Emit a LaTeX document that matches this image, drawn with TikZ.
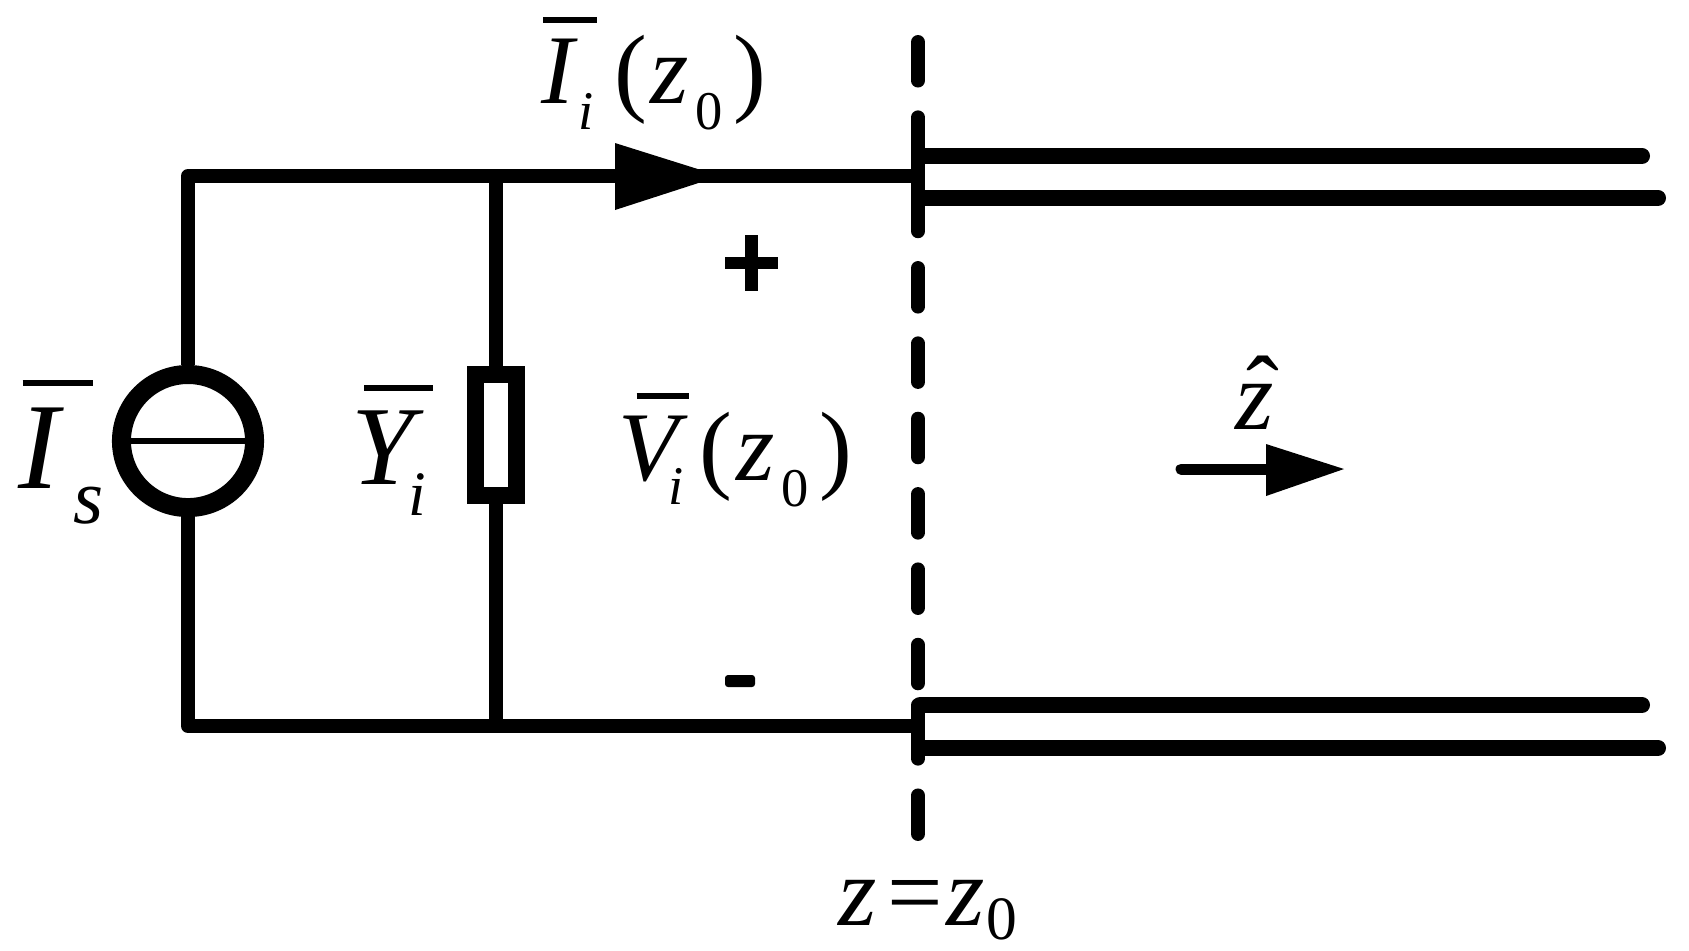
\documentclass[tikz,border=0pt]{standalone}
\usepackage{fontspec}
\setmainfont{Liberation Serif}
\usepackage{tikz}
\newcommand{\ovbar}[3]{\leavevmode\rlap{\kern#1\raisebox{#2}{\rule{#3}{1.7pt}}}}
\newcommand{\subidx}[3]{\raisebox{-#2}{\fontsize{#1}{#1}\selectfont #3}}
\newcommand{\argzero}{(\kern1pt\textit{z}\kern2pt\subidx{15.5pt}{7.4pt}{0}\kern3pt)}
\tikzset{
  wire/.style={line width=0.14cm},
  tube/.style={line width=0.16cm,line cap=round},
  txt/.style={inner sep=0pt,anchor=base west,font=\fontsize{28pt}{30pt}\selectfont},
  signbar/.style={fill=black,inner sep=0pt}
}
\begin{document}
\begin{tikzpicture}[x=0.01cm,y=-0.01cm]
            \useasboundingbox (0,0) rectangle (1689,950);

            % source and admittance
            \node at (188,441) (Is) [circle,draw,line width=0.19cm,minimum size=1.33cm,inner sep=0pt] {};
            \node at (496,435) (Yi) [rectangle,draw,line width=0.17cm,minimum width=0.405cm,minimum height=1.215cm,inner sep=0pt] {};
            \draw[line width=0.063cm] (Is.west) -- (Is.east);

            % corners and junctions
            \coordinate (TL) at (188,176);
            \coordinate (BL) at (188,726);
            \coordinate (TJ) at (496,176);
            \coordinate (BJ) at (496,726);
            \coordinate (TR) at (918,176);
            \coordinate (BR) at (918,726);

            \draw[wire,line join=round] (Is.north) -- (TL) -- (TR);
            \draw[wire,line join=round] (Is.south) -- (BL) -- (BR);
            \draw[wire] (TJ) -- (Yi.north);
            \draw[wire] (Yi.south) -- (BJ);

            % current arrow
            \coordinate (Ahead) at (720,176);
            \fill (615,143) -- (Ahead) -- (615,210) -- cycle;

            % reference plane
            \coordinate (Ptop) at (918,42);
            \coordinate (Pbot) at (918,834);
            \draw[line width=0.14cm,line cap=round,dash pattern=on 0.385cm off 0.368cm] (Ptop) -- (Pbot);
            \coordinate (Tjoin) at (920,156);
            \coordinate (Tend) at (920,198);
            \coordinate (Bjoin) at (920,705);
            \coordinate (Bend) at (920,748);
            \draw[wire,line cap=round] (918,156) -- (918,198);
            \draw[wire,line cap=round] (918,705) -- (918,748);

            % line conductors
            \coordinate (Ta) at (1642,156);
            \coordinate (Tb) at (1658,198);
            \coordinate (Ba) at (1642,705);
            \coordinate (Bb) at (1658,748);
            \draw[tube] (Tjoin) -- (Ta);
            \draw[tube] (Tend) -- (Tb);
            \draw[tube] (Bjoin) -- (Ba);
            \draw[tube] (Bend) -- (Bb);

            % direction arrow
            \coordinate (Zs) at (1181,469);
            \coordinate (Zb) at (1267,469);
            \coordinate (Zt) at (1344,469);
            \draw[line width=0.11cm,line cap=round] (Zs) -- (Zb);
            \fill (1266,444) -- (Zt) -- (1266,496) -- cycle;

            % signs
            \node at (751,263) (Plus) [signbar,minimum width=0.53cm,minimum height=0.12cm] {};
            \node at (751,263) (PlusV) [signbar,minimum width=0.13cm,minimum height=0.56cm] {};
            \node at (740,681) (Minus) [signbar,rounded corners=0.03cm,minimum width=0.3cm,minimum height=0.12cm] {};

            % labels
            \node at (541,103) (LIi) [txt] {\ovbar{0.4pt}{22.8pt}{15.4pt}\textit{I}\subidx{15.5pt}{7.4pt}{\textit{i}}\kern5.9pt\argzero};
            \node at (18,488) (LIs) [txt,font=\fontsize{35pt}{36pt}\selectfont] {\ovbar{1.1pt}{29pt}{20pt}\textit{I}\kern2.5pt\subidx{22pt}{10pt}{\textit{s}}};
            \node at (351,484) (LYi) [txt,font=\fontsize{32pt}{34pt}\selectfont] {\ovbar{3.6pt}{26.5pt}{19.5pt}\textit{Y}\kern-4.5pt\subidx{18pt}{9pt}{\textit{i}}};
            \node at (618,480) (LVi) [txt] {\ovbar{5.1pt}{23pt}{15pt}\textit{V}\kern-5.5pt\subidx{15.5pt}{7pt}{\textit{i}}\kern4.5pt\argzero};
            \node at (1235,429) (Lz) [txt] {\rlap{\kern3pt\raisebox{1.3pt}{ˆ}}\textit{z}};
            \node at (838,925) (Lplane) [txt] {\textit{z}\kern3pt=\kern1pt\textit{z}\kern0.5pt\subidx{17.5pt}{4pt}{0}};
        \end{tikzpicture}
\end{document}
